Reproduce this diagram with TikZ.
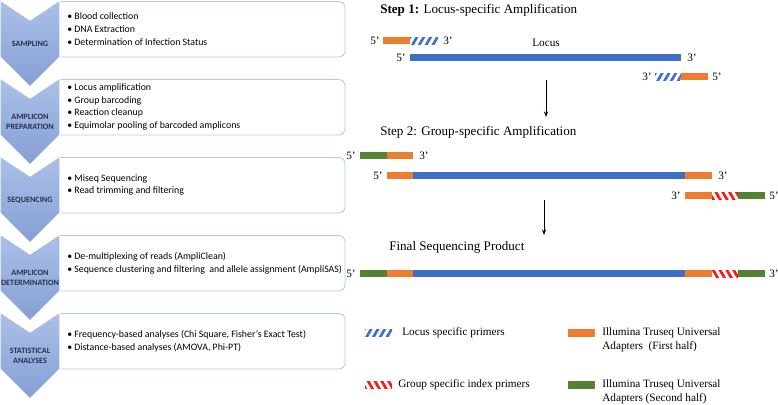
\documentclass[tikz,border=0pt]{standalone}
\usepackage{fontspec}
\setmainfont{Liberation Serif}
\newfontfamily\calibri{Carlito}
\usepackage{tikz}
\usetikzlibrary{calc, positioning, arrows.meta, patterns.meta}
\usepackage{xcolor}
\definecolor{chevTop}{RGB}{172, 192, 232}
\definecolor{chevBot}{RGB}{133, 158, 212}
\definecolor{boxLine}{RGB}{180, 199, 231}
\definecolor{labInk}{RGB}{36, 50, 78}
\definecolor{adOrange}{RGB}{237, 125, 49}
\definecolor{adGreen}{RGB}{84, 130, 53}
\definecolor{locBlue}{RGB}{61, 112, 196}
\definecolor{idxRed}{RGB}{250, 20, 20}

\begin{document}
\begin{tikzpicture}[x=0.025cm, y=-0.025cm, >=Stealth,
  chev/.style={draw=white, line width=0.8pt, top color=chevTop, bottom color=chevBot},
  stagebox/.style={draw=boxLine, line width=0.6pt, rounded corners=4pt, fill=white},
  stagelab/.style={font=\calibri\bfseries\fontsize{5.8}{6.8}\selectfont, text=labInk, align=center, inner sep=0pt},
  items/.style={font=\calibri\fontsize{7}{9.1}\selectfont, align=left, anchor=west, inner sep=0pt},
  steptitle/.style={font=\fontsize{9.3}{11}\selectfont, anchor=west, inner sep=0pt},
  endlab/.style={font=\fontsize{8}{9}\selectfont, inner sep=0pt},
  legtext/.style={font=\fontsize{8}{10}\selectfont, align=left, anchor=west, inner sep=0pt},
  blueHatch/.style={pattern={Lines[angle=60, distance=4.2pt, line width=1.9pt]}, pattern color=locBlue},
  redHatch/.style={pattern={Lines[angle=-60, distance=4.2pt, line width=1.9pt]}, pattern color=idxRed}]
  \useasboundingbox (0,0) rectangle (778,405);

  % stage boxes and chevrons
  \foreach \k in {0,...,4} {
    \draw[stagebox] (55,78*\k+1.5) rectangle (345,78*\k+57);
    \draw[chev] (0,78*\k) -- (30,78*\k+20) -- (60,78*\k) -- (60,78*\k+57)
      -- (30,78*\k+87) -- (0,78*\k+57) -- cycle;
  }
  \foreach \lab [count=\i from 0] in {SAMPLING, {AMPLICON\\PREPARATION}, SEQUENCING,
      {AMPLICON\\DETERMINATION}, {STATISTICAL\\ANALYSES}}
    \node[stagelab] (stage\i) at (30,78*\i+44) {\lab};

  \node[items] (sampling) at (67,29) {\textbullet\ Blood collection\\
    \textbullet\ DNA Extraction\\ \textbullet\ Determination of Infection Status};
  \node[items] (preparation) at (67,107) {\textbullet\ Locus amplification\\
    \textbullet\ Group barcoding\\ \textbullet\ Reaction cleanup\\
    \textbullet\ Equimolar pooling of barcoded amplicons};
  \node[items] (sequencing) at (67,185) {\textbullet\ Miseq Sequencing\\
    \textbullet\ Read trimming and filtering};
  \node[items] (determination) at (67,263) {\textbullet\ De-multiplexing of reads (AmpliClean)\\
    \textbullet\ Sequence clustering and filtering\ \ and allele assignment (AmpliSAS)};
  \node[items] (analyses) at (67,341) {\textbullet\ Frequency-based analyses (Chi Square, Fisher’s Exact Test)\\
    \textbullet\ Distance-based analyses (AMOVA, Phi-PT)};

  % step 1
  \node[steptitle] (step1) at (380,10) {\textbf{Step 1:} Locus-specific Amplification};
  \fill[adOrange] (383,37.5) rectangle (410,44.5);
  \fill[blueHatch] (410,37.5) rectangle (438,44.5);
  \node[endlab, anchor=east] (p1a) at (380,41) {5’};
  \node[endlab, anchor=west] (p1b) at (443,41) {3’};
  \node[endlab] (locus) at (546,43) {Locus};
  \fill[locBlue] (410,54.5) rectangle (681,61.5);
  \node[endlab, anchor=east] (l1a) at (406,58) {5’};
  \node[endlab, anchor=west] (l1b) at (687,58) {3’};
  \fill[blueHatch] (655,73.5) rectangle (681,80.5);
  \fill[adOrange] (681,73.5) rectangle (708,80.5);
  \node[endlab, anchor=east] (p2a) at (652,77) {3’};
  \node[endlab, anchor=west] (p2b) at (712,77) {5’};
  \coordinate (arr1s) at (546,80);
  \coordinate (arr1e) at (546,117);
  \draw[-{Stealth[length=4pt, width=3pt]}, line width=0.5pt] (arr1s) -- (arr1e);

  % step 2
  \node[steptitle] (step2) at (380,132) {Step 2: Group-specific Amplification};
  \fill[adGreen] (360,152.5) rectangle (387,159.5);
  \fill[adOrange] (387,152.5) rectangle (413,159.5);
  \node[endlab, anchor=east] (g1a) at (356,156) {5’};
  \node[endlab, anchor=west] (g1b) at (419,156) {3’};
  \fill[adOrange] (387,172) rectangle (413,179);
  \fill[locBlue] (413,172) rectangle (685,179);
  \fill[adOrange] (685,172) rectangle (712,179);
  \node[endlab, anchor=east] (m1a) at (383,175.5) {5’};
  \node[endlab, anchor=west] (m1b) at (718,175.5) {3’};
  \fill[adOrange] (685,192.5) rectangle (712,199.5);
  \fill[redHatch] (712,192.5) rectangle (738,199.5);
  \fill[adGreen] (738,192.5) rectangle (765,199.5);
  \node[endlab, anchor=east] (g2a) at (681,196) {3’};
  \node[endlab, anchor=west] (g2b) at (769,196) {5’};
  \coordinate (arr2s) at (544,200);
  \coordinate (arr2e) at (544,235);
  \draw[-{Stealth[length=4pt, width=3pt]}, line width=0.5pt] (arr2s) -- (arr2e);

  % final product
  \node[steptitle] (final) at (389,247) {Final Sequencing Product};
  \fill[adGreen] (360,270.5) rectangle (387,277.5);
  \fill[adOrange] (387,270.5) rectangle (413,277.5);
  \fill[locBlue] (413,270.5) rectangle (685,277.5);
  \fill[adOrange] (685,270.5) rectangle (712,277.5);
  \fill[redHatch] (712,270.5) rectangle (738,277.5);
  \fill[adGreen] (738,270.5) rectangle (765,277.5);
  \node[endlab, anchor=east] (f1a) at (356,274) {5’};
  \node[endlab, anchor=west] (f1b) at (769,274) {3’};

  % legend
  \fill[blueHatch] (365,329.5) rectangle (392,336.5);
  \node[legtext] (legloc) at (402,333) {Locus specific primers};
  \fill[redHatch] (365,381.5) rectangle (392,388.5);
  \node[legtext] (legidx) at (398,385) {Group specific index primers};
  \fill[adOrange] (568,329.5) rectangle (595,337);
  \node[legtext] (legfirst) at (602,340) {Illumina Truseq Universal\\Adapters\ \ (First half)};
  \fill[adGreen] (568,381.5) rectangle (595,389);
  \node[legtext] (legsecond) at (602,391.5) {Illumina Truseq Universal\\Adapters (Second half)};
\end{tikzpicture}
\end{document}
